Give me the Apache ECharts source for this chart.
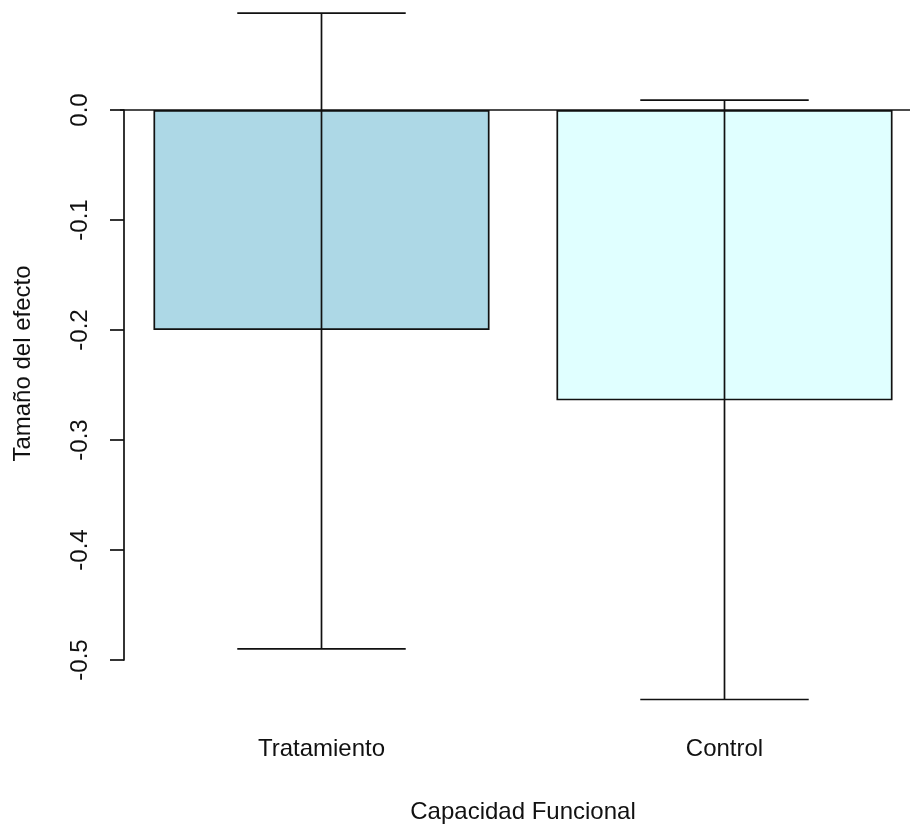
<!DOCTYPE html>
<html>
<head>
<meta charset="utf-8">
<script src="https://cdn.jsdelivr.net/npm/echarts@6/dist/echarts.min.js"></script>
<style>
html,body{margin:0;padding:0;background:#fff;}
#chart{width:910px;height:825px;}
</style>
</head>
<body>
<div id="chart"></div>
<script>
// ---- data ----
const categories = ['Tratamiento', 'Control'];
const effectSize = [-0.2, -0.264];
const ciLower = [-0.49, -0.536];
const ciUpper = [0.088, 0.009];
const yTickValues = [0, -0.1, -0.2, -0.3, -0.4, -0.5];
const barColors = ['#ADD8E6', '#E0FFFF'];
const xTitle = 'Capacidad Funcional';
const yTitle = 'Tamaño del efecto';

const FONT = 'Liberation Sans, Arial, sans-serif';
const INK = '#111';

const chart = echarts.init(document.getElementById('chart'), null, {renderer: 'canvas'});

const barData = effectSize.map((v, i) => ({value: v, itemStyle: {color: barColors[i]}}));
const errData = categories.map((c, i) => [i, ciLower[i], ciUpper[i]]);

function renderErr(params, api) {
  const x = api.value(0);
  const lo = api.coord([x, api.value(1)]);
  const hi = api.coord([x, api.value(2)]);
  const half = api.size([1, 0])[0] * 0.209;
  const style = {stroke: INK, lineWidth: 1.7};
  return {
    type: 'group',
    children: [
      {type: 'line', shape: {x1: lo[0], y1: lo[1], x2: hi[0], y2: hi[1]}, style: style},
      {type: 'line', shape: {x1: lo[0] - half, y1: lo[1], x2: lo[0] + half, y2: lo[1]}, style: style},
      {type: 'line', shape: {x1: hi[0] - half, y1: hi[1], x2: hi[0] + half, y2: hi[1]}, style: style}
    ]
  };
}

const option = {
  animation: false,
  backgroundColor: '#fff',
  grid: [
    // axis grid (y axis drawn from 0 to -0.5)
    {left: 124, top: 110, width: 798, height: 550, containLabel: false, outerBoundsMode: 'none'},
    // plot region
    {left: 120, top: 0, width: 806, bottom: 98, containLabel: false, outerBoundsMode: 'none'}
  ],
  xAxis: [
    {gridIndex: 0, type: 'value', show: false},
    {
      gridIndex: 1, type: 'category', data: categories,
      axisLine: {show: false}, axisTick: {show: false},
      axisLabel: {fontSize: 24, color: INK, fontFamily: FONT, margin: 10},
      name: xTitle, nameLocation: 'middle', nameGap: 73,
      nameTextStyle: {fontSize: 24, color: INK, fontFamily: FONT}
    }
  ],
  yAxis: [
    {
      gridIndex: 0, type: 'value', min: -0.5, max: 0, interval: 0.1,
      axisLine: {show: true, lineStyle: {color: INK, width: 1.7}},
      axisTick: {show: true, length: 14, lineStyle: {color: INK, width: 1.7}},
      axisLabel: {
        rotate: 90, fontSize: 24, color: INK, fontFamily: FONT, margin: 32,
        formatter: v => v.toFixed(1)
      },
      splitLine: {show: false}
    },
    {
      gridIndex: 1, type: 'value', min: -0.561, max: 0.1,
      axisLine: {show: false}, axisTick: {show: false}, axisLabel: {show: false},
      splitLine: {show: false},
      name: yTitle, nameLocation: 'middle', nameGap: 85, nameRotate: 90,
      nameTextStyle: {fontSize: 24, color: INK, fontFamily: FONT}
    }
  ],
  series: [
    {
      type: 'bar', xAxisIndex: 1, yAxisIndex: 1,
      data: barData, barWidth: '83.4%',
      itemStyle: {borderColor: INK, borderWidth: 1.7},
      markLine: {
        silent: true, symbol: 'none', label: {show: false},
        lineStyle: {color: INK, width: 1.7, type: 'solid'},
        data: [{yAxis: 0}]
      }
    },
    {
      type: 'custom', xAxisIndex: 1, yAxisIndex: 1,
      data: errData, renderItem: renderErr, z: 5
    }
  ]
};
chart.setOption(option);
</script>
</body>
</html>
